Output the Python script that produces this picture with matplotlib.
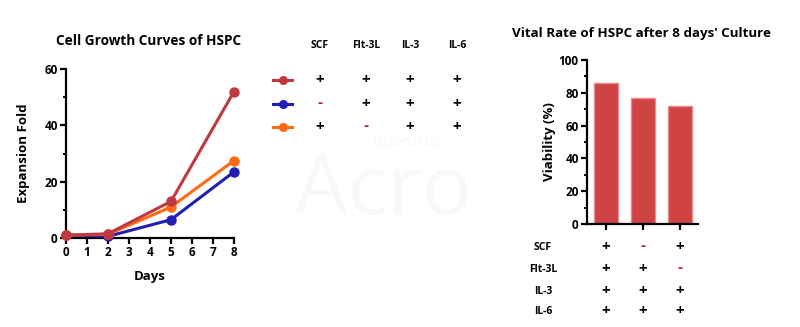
import matplotlib
matplotlib.use("Agg")
import matplotlib.pyplot as plt
import numpy as np

plt.rcParams['font.family'] = ['Open Sans', 'DejaVu Sans']
plt.rcParams['font.weight'] = 'bold'

# ---- data ----
days = [0, 2, 5, 8]
growth_red = [1.0, 1.5, 13.0, 52.0]
growth_blue = [1.0, 0.6, 6.5, 23.5]
growth_orange = [1.0, 1.3, 11.0, 27.5]
line_colors = ["#C0393F", "#1F1FB4", "#FF6A13"]

factors = ["SCF", "Flt-3L", "IL-3", "IL-6"]
# rows = conditions, columns = factors
condition_table = [
    ["+", "+", "+", "+"],
    ["-", "+", "+", "+"],
    ["+", "-", "+", "+"],
]

viability = [86, 77, 72]
bar_color = "#D04345"

W, H = 800, 327
fig = plt.figure(figsize=(W / 100, H / 100), dpi=100)


def fx(px):
    return px / W


def fy(py):
    return 1 - py / H


# watermark (very faint)
fig.text(fx(383), fy(193), "Acro", fontsize=60, fontweight="normal", color="#f8f8f8",
         ha="center", va="center", zorder=0)
fig.text(fx(408), fy(142), "BIOSYSTEMS", fontsize=8.5, fontweight="normal", color="#f6f6f6",
         ha="center", va="center", zorder=0)

# ---- left: growth curves ----
axL = fig.add_axes([fx(66), fy(238), fx(234) - fx(66), fy(69) - fy(238)])
for vals, c in [(growth_blue, line_colors[1]), (growth_orange, line_colors[2]), (growth_red, line_colors[0])]:
    axL.plot(days, vals, color=c, lw=2.2, marker="o", ms=6.5, clip_on=False, zorder=3)
axL.set_xlim(0, 8)
axL.set_ylim(0, 60)
axL.set_xticks(range(0, 9))
axL.set_yticks([0, 20, 40, 60])
axL.set_yticks([10, 30, 50], minor=True)
for s in ["top", "right"]:
    axL.spines[s].set_visible(False)
for s in ["left", "bottom"]:
    axL.spines[s].set_linewidth(1.6)
axL.tick_params(axis="both", which="major", width=1.6, length=4, labelsize=8.5, pad=2)
axL.tick_params(axis="y", which="minor", width=1.4, length=2.5)
axL.set_xlabel("Days", fontsize=9.5, fontweight="bold", labelpad=8)
axL.set_ylabel("Expansion Fold", fontsize=9.5, fontweight="bold", labelpad=10)
fig.text(fx(149), fy(41), "Cell Growth Curves of HSPC", fontsize=9.8, fontweight="bold",
         ha="center", va="center")

# legend table
col_x = [320, 366, 410, 457]
row_y = [80, 104, 127]
for f, x in zip(factors, col_x):
    fig.text(fx(x), fy(45), f, fontsize=7.5, fontweight="bold", ha="center", va="center")
for i, (ry, c) in enumerate(zip(row_y, line_colors)):
    fig.add_artist(plt.Line2D([fx(273), fx(292)], [fy(ry), fy(ry)], color=c, lw=2.2,
                              transform=fig.transFigure))
    fig.add_artist(plt.Line2D([fx(282.5)], [fy(ry)], color=c, marker="o", ms=5.5,
                              transform=fig.transFigure))
    for j, x in enumerate(col_x):
        s = condition_table[i][j]
        if s == "+":
            fig.text(fx(x), fy(ry), "+", fontsize=11, fontweight="bold", ha="center", va="center", color="black")
        else:
            fig.text(fx(x), fy(ry - 1), "-", fontsize=11, fontweight="bold", ha="center", va="center", color="#C0202A")

# ---- right: viability bars ----
axR = fig.add_axes([fx(587), fy(224), fx(698) - fx(587), fy(60) - fy(224)])
xpos = np.arange(len(viability))
axR.bar(xpos, viability, width=0.65, color=bar_color, edgecolor="#E88A8A", linewidth=1.0)
axR.set_xlim(-0.514, 2.49)
axR.set_ylim(0, 100)
axR.set_yticks([0, 20, 40, 60, 80, 100])
axR.set_yticks([10, 30, 50, 70, 90], minor=True)
axR.set_xticks(xpos)
axR.set_xticklabels([])
for s in ["top", "right"]:
    axR.spines[s].set_visible(False)
for s in ["left", "bottom"]:
    axR.spines[s].set_linewidth(1.6)
axR.tick_params(axis="both", which="major", width=1.6, length=4, labelsize=8.5, pad=2)
axR.tick_params(axis="y", which="minor", width=1.4, length=2.5)
axR.set_ylabel("Viability (%)", fontsize=9.5, fontweight="bold", labelpad=2)
fig.text(fx(642), fy(33), "Vital Rate of HSPC after 8 days' Culture", fontsize=9.6, fontweight="bold",
         ha="center", va="center")

# table below bars
bar_cols_px = [606, 643, 680]
tab_rows_y = [247, 269, 291, 311]
for k, (f, ry) in enumerate(zip(factors, tab_rows_y)):
    fig.text(fx(543), fy(ry), f, fontsize=7.5, fontweight="bold", ha="center", va="center")
    for i, x in enumerate(bar_cols_px):
        s = condition_table[i][k]
        if s == "+":
            fig.text(fx(x), fy(ry), "+", fontsize=11, fontweight="bold", ha="center", va="center", color="black")
        else:
            fig.text(fx(x), fy(ry - 1), "-", fontsize=11, fontweight="bold", ha="center", va="center", color="#C0202A")

fig.savefig("out.png", dpi=100)
